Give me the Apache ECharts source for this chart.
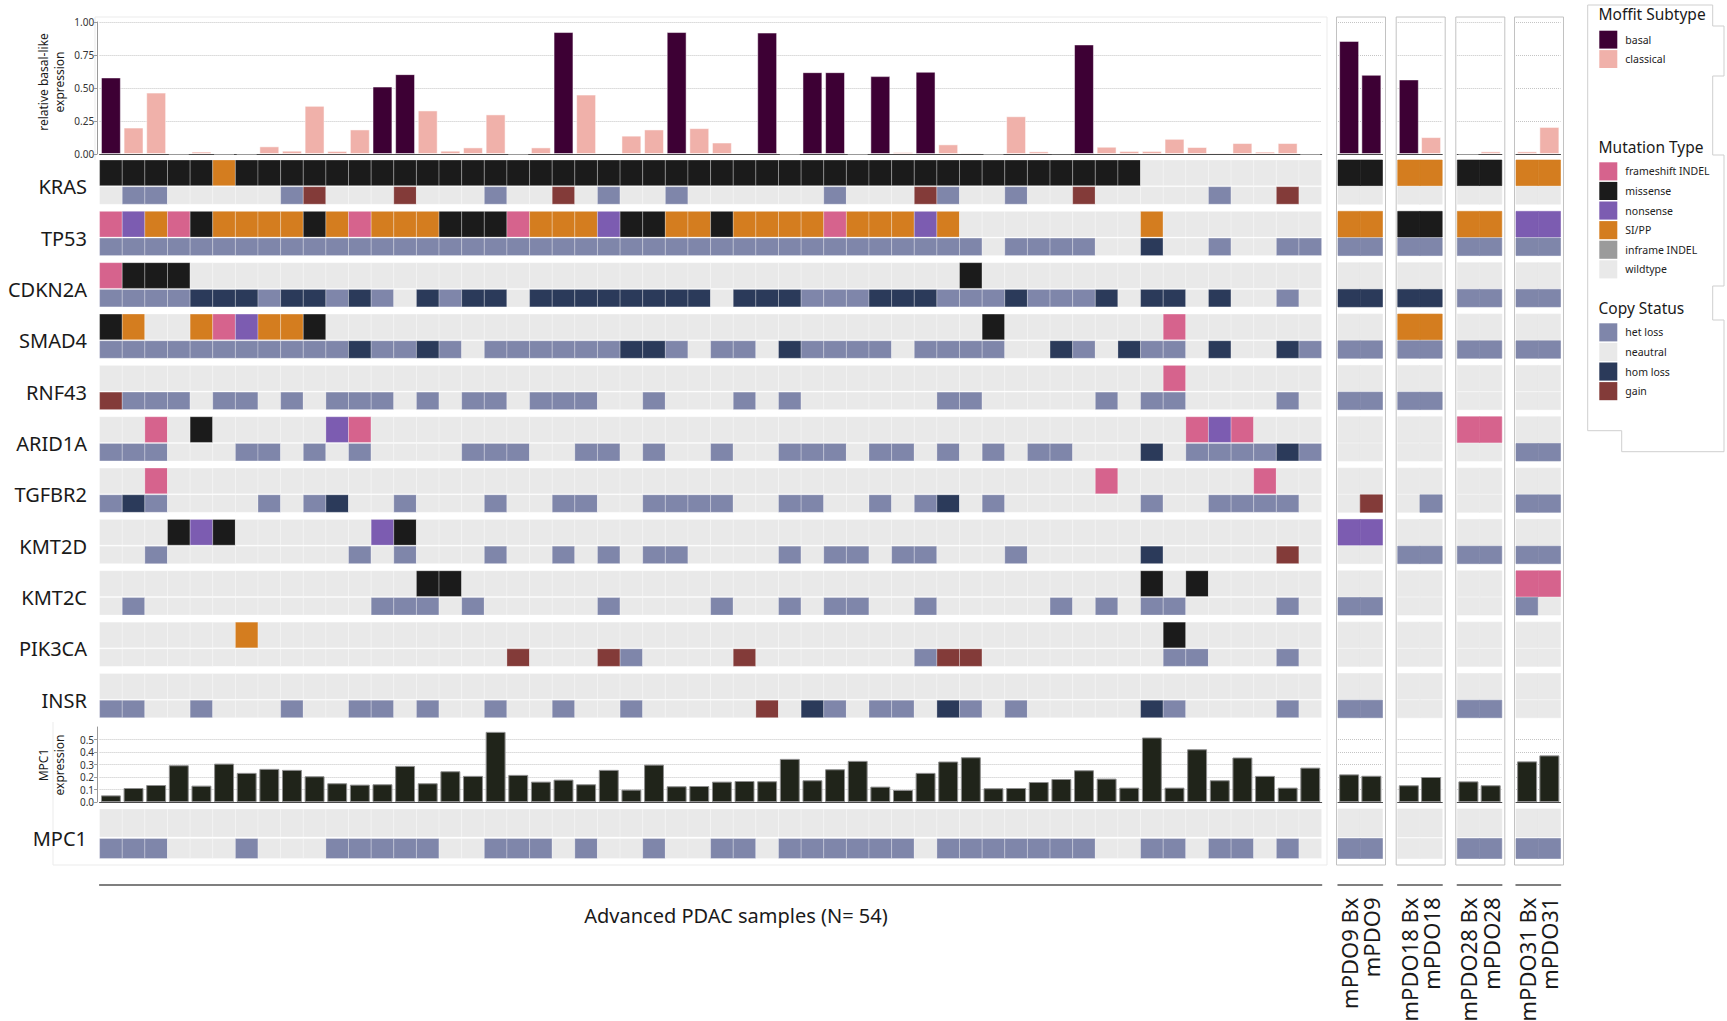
<!DOCTYPE html>
<html><head><meta charset="utf-8">
<script src="https://cdn.jsdelivr.net/npm/echarts@6/dist/echarts.min.js"></script>
<style>html,body{margin:0;padding:0;background:#fff}#c{width:1727px;height:1021px}</style>
</head><body><div id="c"></div>
<script>
// ---------------- DATA ----------------
const genes = ['KRAS','TP53','CDKN2A','SMAD4','RNF43','ARID1A','TGFBR2','KMT2D','KMT2C','PIK3CA','INSR','MPC1'];
// mutation codes: F frameshift INDEL, M missense, N nonsense, S SI/PP, I inframe INDEL, . wildtype
const mainMutation = [
  "MMMMMSMMMM"+"MMMMMMMMMM"+"MMMMMMMMMM"+"MMMMMMMMMM"+"MMMMMM...."+"....",
  "FNSFMSSSSM"+"SFSSSMMMFS"+"SSNMMSSMSS"+"SSFSSSNS.."+"......S..."+"....",
  "FMMM......"+".........."+".........."+"........M."+".........."+"....",
  "MS..SFNSSM"+".........."+".........."+".........M"+".......F.."+"....",
  ".........."+".........."+".........."+".........."+".......F.."+"....",
  "..F.M....."+"NF........"+".........."+".........."+"........FN"+"F...",
  "..F......."+".........."+".........."+".........."+"....F....."+".F..",
  "...MNM...."+"..NM......"+".........."+".........."+".........."+"....",
  ".........."+"....MM...."+".........."+".........."+"......M.M."+"....",
  "......S..."+".........."+".........."+".........."+".......M.."+"....",
  ".........."+".........."+".........."+".........."+".........."+"....",
  ".........."+".........."+".........."+".........."+".........."+"...."
];
// copy codes: H het loss, . neutral, D hom loss, G gain
const mainCopy = [
  ".HH.....HG"+"...G...H.."+"G.H..H...."+"..H...GH.."+"H..G.....H"+"..G.",
  "HHHHHHHHHH"+"HHHHHHHHHH"+"HHHHHHHHHH"+"HHHHHHHHH."+"HHHH..D..H"+"..HH",
  "HHHHDDDHDD"+"HDH.DHDD.D"+"DDDDDDD.DD"+"DHHHDDDHHH"+"DHHHD.DD.D"+"..H.",
  "HHHHHHHHHH"+"HDHHDH.HHH"+"HHHDDH.HH."+"DHHHH.HHHH"+"..DH.DHH.D"+"..DH",
  "GHHH.HH.H."+"HHH.H.HH.H"+"HH..H...H."+"H......HH."+"....H.HH.."+"..H.",
  "HHH...HH.H"+".H....HHH."+".HH.H..H.."+"HHH.HH.H.H"+".HH...D.HH"+"HHDH",
  "HDH....H.H"+"D..H...H.."+"HH..HHHH.."+"HH..H.HD.H"+"......H..H"+"HHH.",
  "..H......."+".H.H...H.."+"H.H.HH...."+"H.HH.HH..."+"H.....D..."+"..G.",
  ".H........"+"..HHH.H..."+"..H....H.."+"H.HH..H..."+"..H.H.HH.."+"..H.",
  ".........."+"........G."+"..GH....G."+"......HGG."+".......HH."+"..H.",
  "HH..H...H."+".HH.H..H.."+"H..H.....G"+".DH.HH.DH."+"H.....DH.."+"..H.",
  "HHH...H..."+"HHHHH..HHH"+".H..H..HH."+"HHHHHH.HHH"+"HHHH..HH.H"+"H.H."
];
const basalLike = [0.58,0.20,0.465,0,0.018,0,0,0.058,0.025,0.365,
  0.023,0.186,0.511,0.605,0.33,0.025,0.05,0.30,0,0.05,
  0.924,0.45,0.008,0.139,0.186,0.924,0.196,0.087,0.008,0.92,
  0,0.62,0.62,0,0.59,0.015,0.623,0.073,0.01,0,
  0.286,0.02,0.005,0.83,0.055,0.023,0.023,0.115,0.053,0.01,
  0.083,0.018,0.083,0];
const subtype = "BCCCCCCCCC"+"CCBBCCCCCC"+"BCCCCBCCCB"+"CBBCBCBCCC"+"CCCBCCCCCC"+"CCCC";
const mpc1Expr = [0.053,0.112,0.136,0.294,0.131,0.307,0.233,0.265,0.257,0.206,
  0.15,0.139,0.142,0.289,0.15,0.246,0.209,0.561,0.217,0.163,
  0.179,0.142,0.257,0.099,0.299,0.126,0.128,0.163,0.168,0.166,
  0.345,0.174,0.262,0.329,0.123,0.096,0.233,0.324,0.358,0.11,
  0.112,0.16,0.184,0.254,0.187,0.115,0.516,0.115,0.422,0.174,
  0.356,0.209,0.115,0.275];
const pdoSamples = ['mPDO9 Bx','mPDO9','mPDO18 Bx','mPDO18','mPDO28 Bx','mPDO28','mPDO31 Bx','mPDO31'];
const pdoBasalLike = [0.857,0.60,0.565,0.128,0,0.02,0.02,0.205];
const pdoSubtype = "BBBCCCCC";
const pdoMpc1Expr = [0.221,0.21,0.134,0.20,0.165,0.134,0.325,0.373];
const pdoMutation = ["MMSSMMSS","SSMMSSNN","........","..SS....","........","....FF..",
  "........","NN......","......FF","........","........","........"];
const pdoCopy = ["........","HHHHHHHH","DDDDHHHH","HHHHHHHH","HHHH....","......HH",
  ".G.H..HH","..HHHHHH","HH....H.","........","HH..HH..","HH..HHHH"];
const mutationTypes = ['frameshift INDEL','missense','nonsense','SI/PP','inframe INDEL','wildtype'];
const copyStates = ['het loss','neautral','hom loss','gain'];
const subtypes = ['basal','classical'];

// ---------------- STYLE ----------------
const FONT = '"Noto Sans", "Open Sans", sans-serif';
const SUB_COLORS = {B:'#3d0034', C:'#f0b1aa'};
const MUT_COLORS = {F:'#d6638d', M:'#1b1b1b', N:'#7c5cb1', S:'#d47d1f', I:'#9b9b9b', '.':'#e9e9e9'};
const CNA_COLORS = {H:'#7f86aa', '.':'#e9e9e9', D:'#2b3a5a', G:'#833b39'};
const MUT_LEG = ['#d6638d','#1b1b1b','#7c5cb1','#d47d1f','#9b9b9b','#e9e9e9'];
const CNA_LEG = ['#7f86aa','#e9e9e9','#2b3a5a','#833b39'];
const EXPR_COLOR = '#20241a';

// layout (pixels)
const TOP_Y = 22, TOP_H = 132;
const CELL_Y = 160, CELL_H = 700;
const MPC_Y = 727, MPC_H = 75;
const PANELS = [
  {left:99.6, width:1222},
  {left:1338, width:44.5},
  {left:1397.7, width:44.5},
  {left:1457.3, width:44.5},
  {left:1516, width:44.5}
];
function rowBand(r){
  const g = Math.floor(r/2), isCopy = r % 2;
  if (g < 11) { const t = 51.35*g; return isCopy ? [t+26.7, 17.5] : [t, 25.7]; }
  return isCopy ? [678.5, 20] : [649, 28];
}
function makeRenderCell(withStroke){
  return function(params, api){
    const x = api.value(0), r = api.value(1);
    const b = rowBand(r);
    const p0 = api.coord([x, b[0]]), p1 = api.coord([x, b[0]+b[1]]);
    const w = api.size([1, 0])[0];
    return {type:'rect', shape:{x:p0[0]-w/2, y:p0[1], width:w, height:p1[1]-p0[1]},
      style: withStroke ? {fill:api.visual('color'), stroke:'rgba(255,255,255,0.28)', lineWidth:1}
                        : {fill:api.visual('color'), stroke:api.visual('color'), lineWidth:0.6}};
  };
}

const grids=[], xAxes=[], yAxes=[], series=[];
function addGrid(left, top, width, height){
  grids.push({left, top, width, height, containLabel:false, outerBoundsMode:'none'});
  return grids.length-1;
}
function buildPanel(p, cats, basal, sub, expr, mutStrs, cnaStrs, offset, isMain){
  const n = cats.length;
  const P = PANELS[p];
  // top basal-like bars
  let g = addGrid(P.left, TOP_Y, P.width, TOP_H);
  xAxes.push({gridIndex:g, type:'category', data:cats, axisLine:{show:true, onZero:false, lineStyle:{color:'#4a4a4a', width:1.2}},
    axisTick:{show:false}, axisLabel:{show:false}});
  yAxes.push({gridIndex:g, type:'value', min:0, max:1, interval:0.25, offset:isMain?2.5:0,
    axisLine:{show:isMain, lineStyle:{color:'#9a9a9a'}}, axisTick:{show:isMain, length:3, lineStyle:{color:'#9a9a9a'}},
    axisLabel:{show:isMain, fontSize:10, color:'#333', margin:3, fontFamily:FONT, formatter:v=>v.toFixed(2)},
    splitLine:{show:true, lineStyle:{type:'dotted', color:'#c4c4c4'}}});
  const xi = xAxes.length-1, yi = yAxes.length-1;
  ['B','C'].forEach(s=>{
    series.push({type:'bar', name:s==='B'?'basal':'classical', xAxisIndex:xi, yAxisIndex:yi,
      barWidth:isMain?'88%':'90%', barGap:'-100%',
      data: basal.map((v,i)=> sub[i]===s ? v : '-'),
      itemStyle:{color:SUB_COLORS[s], borderColor:'rgba(255,255,255,0.5)', borderWidth:1}});
  });
  // mutation / copy cells
  g = addGrid(P.left, CELL_Y, P.width, CELL_H);
  const xCell = {gridIndex:g, type:'category', data:cats, position:'bottom', offset:24.5,
    axisLine:{show:true, onZero:false, lineStyle:{color:'#555', width:1.5}}, axisTick:{show:false}};
  if (isMain) {
    xCell.axisLabel = {show:false};
  } else {
    xCell.axisLabel = {show:true, rotate:90, interval:0, margin:13, fontSize:22, color:'#1a1a1a', fontFamily:FONT};
  }
  xAxes.push(xCell);
  yAxes.push({gridIndex:g, type:'value', min:0, max:CELL_H, inverse:true, show:false});
  const cellData = [];
  mutStrs.forEach((s,gi)=>{ for(let i=0;i<n;i++) cellData.push({value:[i, 2*gi], itemStyle:{color:MUT_COLORS[s[offset+i]]}}); });
  cnaStrs.forEach((s,gi)=>{ for(let i=0;i<n;i++) cellData.push({value:[i, 2*gi+1], itemStyle:{color:CNA_COLORS[s[offset+i]]}}); });
  series.push({type:'custom', xAxisIndex:xAxes.length-1, yAxisIndex:yAxes.length-1, renderItem:makeRenderCell(isMain),
    encode:{x:0, y:1}, data:cellData});
  // MPC1 expression bars
  g = addGrid(P.left, MPC_Y, P.width, MPC_H);
  xAxes.push({gridIndex:g, type:'category', data:cats, axisLine:{show:true, onZero:false, lineStyle:{color:'#4a4a4a', width:1.2}},
    axisTick:{show:false}, axisLabel:{show:false}});
  yAxes.push({gridIndex:g, type:'value', min:0, max:0.6, interval:0.1, offset:isMain?2.5:0,
    axisLine:{show:isMain, lineStyle:{color:'#9a9a9a'}}, axisTick:{show:isMain, length:3, lineStyle:{color:'#9a9a9a'}},
    axisLabel:{show:isMain, fontSize:10, color:'#333', margin:3, fontFamily:FONT, showMaxLabel:false, formatter:v=>v.toFixed(1)},
    splitLine:{show:true, showMaxLine:false, lineStyle:{type:'dotted', color:'#c4c4c4'}}});
  series.push({type:'bar', name:'MPC1 expression', xAxisIndex:xAxes.length-1, yAxisIndex:yAxes.length-1,
    barWidth:isMain?'88%':'90%', data:expr, itemStyle:{color:EXPR_COLOR, borderColor:'#8e8e8e', borderWidth:1}});
}

const mainCats = basalLike.map((_,i)=>'S'+(i+1));
buildPanel(0, mainCats, basalLike, subtype, mpc1Expr, mainMutation, mainCopy, 0, true);
for (let k=0;k<4;k++){
  buildPanel(k+1, pdoSamples.slice(2*k, 2*k+2), pdoBasalLike.slice(2*k,2*k+2), pdoSubtype.slice(2*k,2*k+2),
    pdoMpc1Expr.slice(2*k,2*k+2), pdoMutation, pdoCopy, 2*k, false);
}

// ---------------- GRAPHICS (frames, labels, legend) ----------------
const graphic = [];
graphic.push({type:'polyline', silent:true, shape:{points:[[95,160],[95,17],[1327,17],[1327,865],[53,865],[53,722]]},
  style:{stroke:'#ebebeb', lineWidth:1, fill:null}});
PANELS.slice(1).forEach(P=>{
  graphic.push({type:'rect', silent:true, shape:{x:P.left-1.5, y:17, width:49, height:848},
    style:{stroke:'#c2c2c2', lineWidth:1, fill:null}});
});
genes.forEach((gname,gi)=>{
  graphic.push({type:'text', silent:true, x:87, y:CELL_Y + rowBand(2*gi+1)[0],
    style:{text:gname, font:'20px '+FONT, fill:'#1a1a1a', textAlign:'right', textVerticalAlign:'middle'}});
});
graphic.push({type:'text', silent:true, x:51, y:82, rotation:Math.PI/2,
  style:{text:'relative basal-like\nexpression', font:'12px '+FONT, lineHeight:16, fill:'#1a1a1a', textAlign:'center', textVerticalAlign:'middle'}});
graphic.push({type:'text', silent:true, x:51, y:765, rotation:Math.PI/2,
  style:{text:'MPC1\nexpression', font:'12px '+FONT, lineHeight:16, fill:'#1a1a1a', textAlign:'center', textVerticalAlign:'middle'}});
graphic.push({type:'text', silent:true, x:736, y:915,
  style:{text:'Advanced PDAC samples (N= 54)', font:'20px '+FONT, fill:'#1a1a1a', textAlign:'center', textVerticalAlign:'middle'}});
graphic.push({type:'polyline', silent:true, shape:{points:[[1587.7,430.7],[1587.7,5],[1712.7,5],[1712.7,26],[1724,26],[1724,76],
  [1712.7,76],[1712.7,155],[1724,155],[1724,286],[1712.7,286],[1712.7,320],[1724,320],[1724,451.7],[1621.7,451.7],[1621.7,430.7],[1587.7,430.7]]},
  style:{stroke:'#cfcfcf', lineWidth:1, fill:null}});
function legendBlock(title, titleY, names, colors, firstY, pitch){
  graphic.push({type:'text', silent:true, x:1598.5, y:titleY,
    style:{text:title, font:'15.5px '+FONT, fill:'#1a1a1a', textAlign:'left', textVerticalAlign:'middle'}});
  names.forEach((nm,i)=>{
    const y = firstY + i*pitch;
    graphic.push({type:'rect', silent:true, shape:{x:1599.3, y:y, width:18, height:pitch-1.5}, style:{fill:colors[i]}});
    graphic.push({type:'text', silent:true, x:1625.3, y:y+(pitch-1.5)/2,
      style:{text:nm, font:'10.5px '+FONT, fill:'#222', textAlign:'left', textVerticalAlign:'middle'}});
  });
}
legendBlock('Moffit Subtype', 14, subtypes, [SUB_COLORS.B, SUB_COLORS.C], 30.7, 19.4);
legendBlock('Mutation Type', 146.7, mutationTypes, MUT_LEG, 162.3, 19.6);
legendBlock('Copy Status', 307.5, copyStates, CNA_LEG, 323.3, 19.6);

const chart = echarts.init(document.getElementById('c'), null, {renderer:'svg', width:1727, height:1021});
chart.setOption({
  animation:false,
  backgroundColor:'#ffffff',
  textStyle:{fontFamily:FONT},
  grid:grids, xAxis:xAxes, yAxis:yAxes, series:series, graphic:graphic
});
</script>
</body></html>
